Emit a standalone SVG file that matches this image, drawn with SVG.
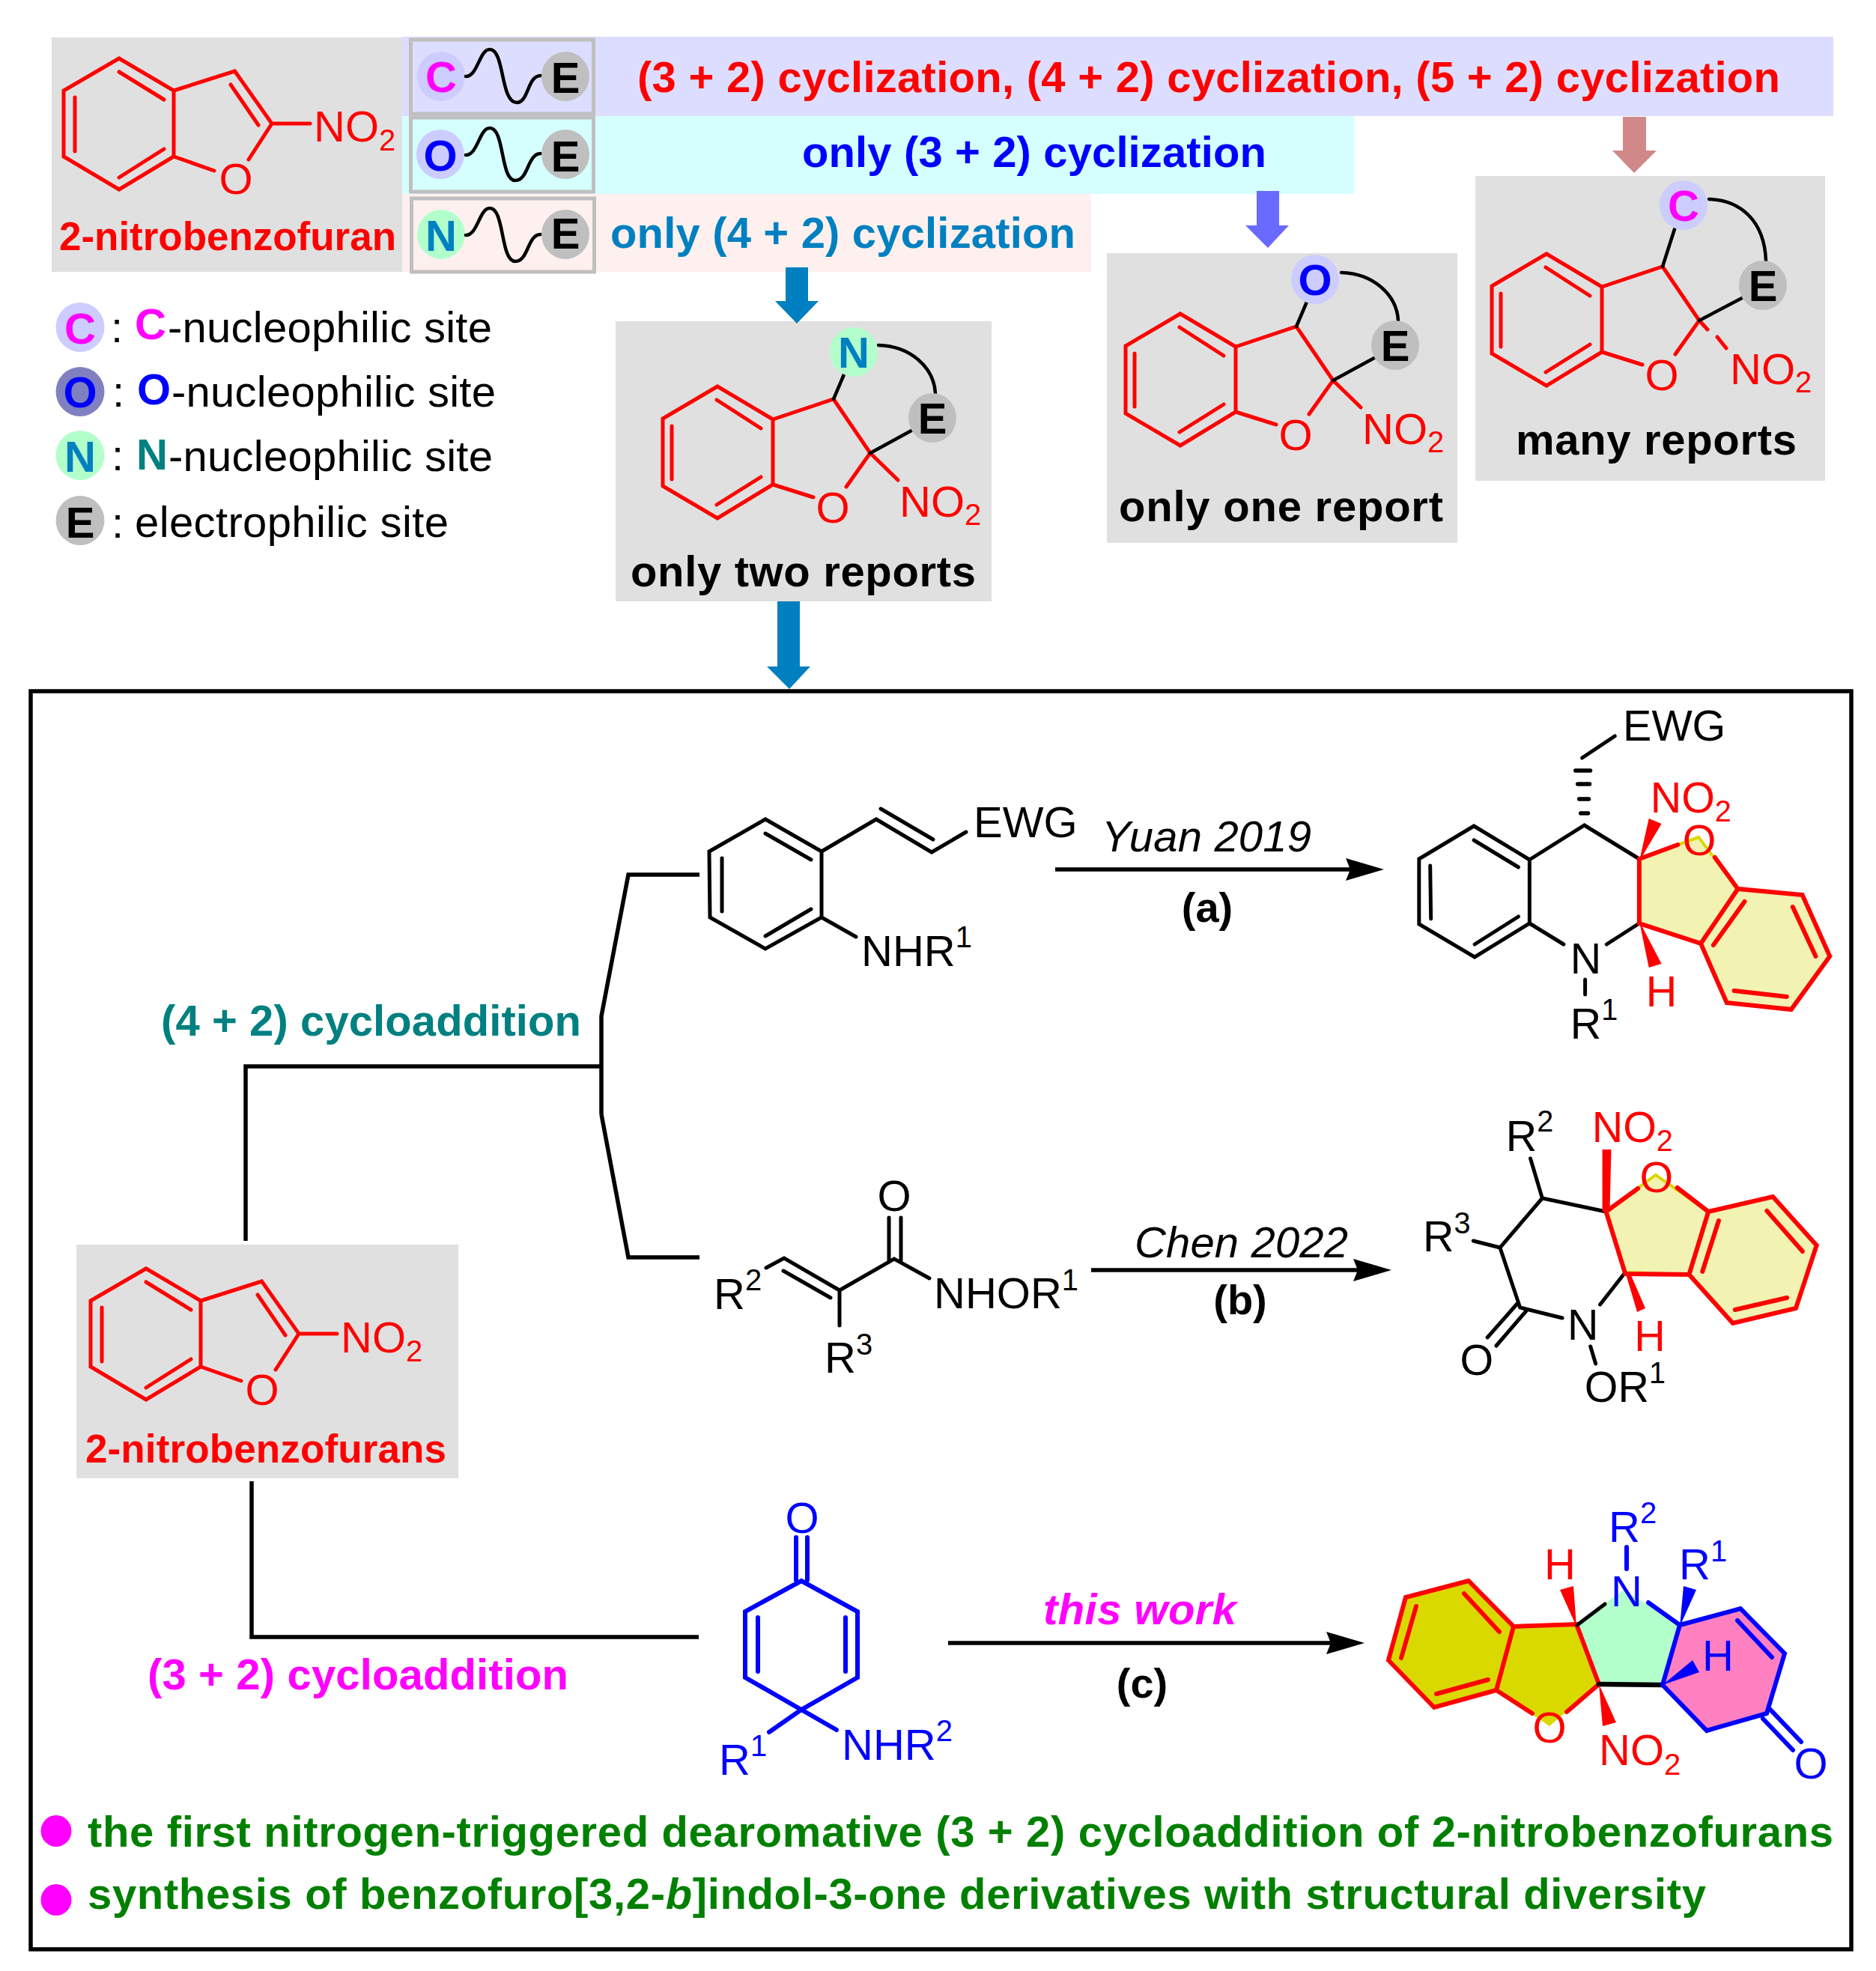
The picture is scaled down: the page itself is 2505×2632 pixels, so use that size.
<svg xmlns="http://www.w3.org/2000/svg" width="2505" height="2632" viewBox="0 0 2505 2632">
<style>
text{font-family:"Liberation Sans",Arial,sans-serif;font-size:58px}
.b{font-weight:bold}
.i{font-style:italic}
.m{text-anchor:middle}
.s{font-size:40px}
.red{fill:#f00}.blue{fill:#00f}.blk{fill:#000}.mag{fill:#f0f}.teal{fill:#008080}.sky{fill:#0080c0}.grn{fill:#008000}
.grey{fill:#e0e0e0}
.br{fill:none;stroke:#f00;stroke-width:5;stroke-linecap:round;stroke-linejoin:miter}
.br6{fill:none;stroke:#f00;stroke-width:6;stroke-linecap:round;stroke-linejoin:miter}
.bk{fill:none;stroke:#000;stroke-width:5;stroke-linecap:round;stroke-linejoin:miter}
.bk4{fill:none;stroke:#000;stroke-width:4.5;stroke-linecap:round}
.bb{fill:none;stroke:#00f;stroke-width:6;stroke-linecap:round;stroke-linejoin:miter}
.cn{fill:none;stroke:#000;stroke-width:5.5;stroke-linejoin:miter}
.box{fill:none;stroke:#bfbfbf;stroke-width:5}
.wave{fill:none;stroke:#000;stroke-width:4.5;stroke-linecap:round}
.ec{fill:#ccf}.en{fill:#b2ffcc}.ee{fill:#bfbfbf}.eo{fill:#8080c0}
.yl{fill:#f2f2b2;stroke:#d9d900;stroke-width:4;stroke-linejoin:miter}
</style>
<defs>
<marker id="ah" markerUnits="userSpaceOnUse" markerWidth="52" markerHeight="30" refX="11" refY="15" orient="auto"><path d="M0,0 L51,15 L0,30 L6,15Z" fill="#000"/></marker>
</defs>
<rect width="2505" height="2632" fill="#fff"/>

<g id="bands">
<rect x="537" y="49" width="1911" height="106" fill="#ddf"/>
<rect x="537" y="155" width="1271" height="104" fill="#d5ffff"/>
<rect x="537" y="259" width="920" height="104" fill="#fdf0ee"/>
<rect x="69" y="50" width="468" height="313" class="grey"/>
</g>

<g id="node-2-nitrobenzofuran">
<path class="br" d="M159,78 L232,121 L232,209 L159,253 L85,209 L85,121Z M232,121 L313.5,95 L363,165 L332,213 M232,209 L286,228 M363,165 L414,165 M159,96 L219,133 M100,130 L100,202 M219,199 L159,237 M308,113 L345,167"/>
<text x="315" y="259" class="m red">O</text>
<text x="419" y="189" class="red">NO<tspan class="s" dy="12">2</tspan></text>
<text x="79" y="334" class="b red" textLength="450" style="font-size:53px">2-nitrobenzofuran</text>
</g>

<g id="node-ce">
<rect x="548.500" y="53" width="244" height="99" class="box"/>
<ellipse cx="589" cy="102" rx="32" ry="33" class="ec"/>
<text x="589" y="123" class="m b mag">C</text>
<path class="wave" d="M622,102 C638,102 640,66 654,66 C674,66 668,137 690,137 C706,137 704,101 722,101"/>
<ellipse cx="755" cy="102" rx="32" ry="33" class="ee"/>
<text x="755" y="124" class="m b blk">E</text>
<text x="851" y="123" class="b red" textLength="1526">(3 + 2) cyclization, (4 + 2) cyclization, (5 + 2) cyclization</text>
</g>
<g id="node-oe">
<rect x="548.500" y="157" width="244" height="99" class="box"/>
<ellipse cx="588" cy="206" rx="32" ry="33" class="ec"/>
<text x="588" y="228" class="m b blue">O</text>
<path class="wave" d="M622,207 C638,207 640,171 654,171 C674,171 668,241 688,241 C706,241 704,205 722,205"/>
<ellipse cx="755" cy="206" rx="32" ry="33" class="ee"/>
<text x="755" y="229" class="m b blk">E</text>
<text x="1071" y="223" class="b blue" textLength="620">only (3 + 2) cyclization</text>
</g>
<g id="node-ne">
<rect x="549.500" y="265" width="244" height="98" class="box"/>
<ellipse cx="589" cy="313" rx="32" ry="33" class="en"/>
<text x="589" y="335" class="m b sky">N</text>
<path class="wave" d="M622,314 C638,314 640,278 654,278 C674,278 668,349 688,349 C706,349 704,313 722,313"/>
<ellipse cx="755" cy="313" rx="32" ry="33" class="ee"/>
<text x="755" y="332" class="m b blk">E</text>
<text x="815" y="331" class="b sky" textLength="621">only (4 + 2) cyclization</text>
</g>

<g id="legend">
<ellipse cx="107" cy="437" rx="32.500" ry="33" class="ec"/>
<text x="107" y="459" class="m b mag">C</text>
<text x="148" y="457">:</text>
<text x="180" y="453" class="b mag">C</text>
<text x="224" y="457" textLength="433">-nucleophilic site</text>
<ellipse cx="107" cy="523" rx="32.500" ry="33" class="eo"/>
<text x="107" y="544" class="m b blue">O</text>
<text x="150" y="543">:</text>
<text x="183" y="540" class="b blue">O</text>
<text x="229" y="543" textLength="433">-nucleophilic site</text>
<ellipse cx="107" cy="608" rx="32.500" ry="33" class="en"/>
<text x="107" y="630" class="m b sky">N</text>
<text x="149" y="628">:</text>
<text x="182" y="627" class="b teal">N</text>
<text x="225" y="629" textLength="433">-nucleophilic site</text>
<ellipse cx="107" cy="695" rx="32.500" ry="33" class="ee"/>
<text x="107" y="718" class="m b blk">E</text>
<text x="149" y="718">:</text>
<text x="180" y="717" textLength="419">electrophilic site</text>
</g>

<g id="node-only-two">
<rect x="822" y="429" width="502" height="374" class="grey"/>
<path class="br" d="M958,516 L1032,560 L1032,647 L958,692 L885,649 L885,559Z M1032,560 L1113,533 L1162,605 L1130,650 M1032,647 L1086,664 M1162,605 L1199,641 M957,534 L1016,572 M897,569 L897,640 M1016,637 L957,674"/>
<path class="bk4" d="M1113,533 L1127,500 M1173,461 C1215,462 1247,490 1249,525 M1162,605 L1217,575"/>
<ellipse cx="1140" cy="470" rx="32" ry="33" class="en"/>
<text x="1140" y="491" class="m b sky">N</text>
<ellipse cx="1245" cy="558" rx="32" ry="33" class="ee"/>
<text x="1245" y="579" class="m b blk">E</text>
<text x="1112" y="698" class="m red">O</text>
<text x="1201" y="690" class="red">NO<tspan class="s" dy="11">2</tspan></text>
<text x="842" y="783" class="b blk" textLength="461">only two reports</text>
</g>

<g id="node-only-one">
<rect x="1478" y="338" width="468" height="387" class="grey"/>
<g transform="translate(618,-97)">
<path class="br" d="M958,516 L1032,560 L1032,647 L958,692 L885,649 L885,559Z M1032,560 L1113,533 L1162,605 L1130,650 M1032,647 L1086,664 M1162,605 L1199,641 M957,534 L1016,572 M897,569 L897,640 M1016,637 L957,674"/>
<path class="bk4" d="M1113,533 L1127,500 M1173,461 C1215,462 1247,490 1249,525 M1162,605 L1217,575"/>
<ellipse cx="1138" cy="470" rx="32" ry="33" class="ec"/>
<text x="1138" y="491" class="m b blue">O</text>
<ellipse cx="1245" cy="558" rx="32" ry="33" class="ee"/>
<text x="1245" y="579" class="m b blk">E</text>
<text x="1112" y="698" class="m red">O</text>
<text x="1201" y="690" class="red">NO<tspan class="s" dy="11">2</tspan></text>
</g>
<text x="1494" y="696" class="b blk" textLength="433">only one report</text>
</g>

<g id="node-many">
<rect x="1970" y="235" width="467" height="407" class="grey"/>
<g transform="translate(1107,-177)">
<path class="br" d="M958,516 L1032,560 L1032,647 L958,692 L885,649 L885,559Z M1032,560 L1113,533 L1162,605 L1130,650 M1032,647 L1086,664 M1162,605 L1173,617 M1186,627 L1198,642 M957,534 L1016,572 M897,569 L897,640 M1016,637 L957,674"/>
<path class="bk4" d="M1113,533 L1129,483 M1175,443 C1217,444 1249,472 1251,525 M1162,605 L1219,575"/>
<ellipse cx="1141" cy="451" rx="32" ry="33" class="ec"/>
<text x="1141" y="472" class="m b mag">C</text>
<ellipse cx="1247" cy="558" rx="32" ry="33" class="ee"/>
<text x="1247" y="579" class="m b blk">E</text>
<text x="1112" y="698" class="m red">O</text>
<text x="1203" y="690" class="red">NO<tspan class="s" dy="11">2</tspan></text>
</g>
<text x="2024" y="607" class="b blk" textLength="375">many reports</text>
</g>

<g id="frame"><rect x="41" y="923" width="2431" height="1680" fill="none" stroke="#000" stroke-width="5.500"/></g>

<g id="connectors">
<path fill="#0080c0" d="M1049,357 H1079 V402 H1093 L1064,432 L1035,402 H1049Z"/>
<path fill="#6a6aff" d="M1678,255 H1708 V301 H1721 L1693,331 L1663,301 H1678Z"/>
<path fill="#d08888" d="M2167,156 H2198 V201 H2212 L2182,231 L2153,201 H2167Z"/>
<path fill="#0080c0" d="M1038,803 H1068 V890 H1082 L1054,920 L1024,890 H1038Z"/>
<path class="cn" d="M328,1657 V1424 H803 M803,1488 V1357 L839,1168 H934 M803,1488 L839,1679 H934"/>
<path class="cn" d="M336,1978 V2186 H933"/>
<path class="cn" d="M1409,1161 H1808" marker-end="url(#ah)"/>
<path class="cn" d="M1457,1696 H1818" marker-end="url(#ah)"/>
<path class="cn" d="M1266,2194 H1782" marker-end="url(#ah)"/>
</g>

<g id="labels">
<text x="215" y="1383" class="b teal" textLength="561">(4 + 2) cycloaddition</text>
<text x="197" y="2256" class="b mag" textLength="562">(3 + 2) cycloaddition</text>
<text x="1471" y="1137" class="i" textLength="280">Yuan 2019</text>
<text x="1612" y="1231" class="m b" style="font-size:56px">(a)</text>
<text x="1515" y="1679" class="i" textLength="285">Chen 2022</text>
<text x="1656" y="1755" class="m b" style="font-size:56px">(b)</text>
<text x="1393" y="2169" class="b i mag" textLength="258">this work</text>
<text x="1525" y="2267" class="m b" style="font-size:56px">(c)</text>
</g>

<g id="node-2-nitrobenzofurans">
<rect x="102" y="1662" width="510" height="312" class="grey"/>
<g transform="translate(36,1616)">
<path class="br" d="M159,78 L232,121 L232,209 L159,253 L85,209 L85,121Z M232,121 L313.5,95 L363,165 L332,213 M232,209 L286,228 M363,165 L414,165 M159,96 L219,133 M100,130 L100,202 M219,199 L159,237 M308,113 L345,167"/>
<text x="314" y="260" class="m red">O</text>
<text x="419" y="190" class="red">NO<tspan class="s" dy="12">2</tspan></text>
</g>
<text x="114" y="1953" class="b red" textLength="482" style="font-size:53px">2-nitrobenzofurans</text>
</g>

<g id="node-reactant-a">
<path class="bk" d="M947,1137 L1022,1094 L1097,1137 L1097,1225 L1022,1267 L948,1225Z M1022,1113 L1083,1148 M964,1146 L964,1217 M1083,1214 L1022,1250 M1097,1137 L1170,1094 L1244,1138 L1290,1111 M1176,1080 L1246,1121 M1097,1225 L1143,1251"/>
<text x="1300" y="1118">EWG</text>
<text x="1150" y="1290">NHR<tspan class="s" dy="-25">1</tspan></text>
</g>

<g id="node-reactant-b">
<path class="bk" d="M1023,1693 L1047,1680 L1121,1723 L1194,1681 L1241,1707 M1046,1697 L1109,1733 M1121,1723 L1121,1770 M1187,1683 L1187,1626 M1203,1683 L1203,1626"/>
<text x="1194" y="1617" class="m">O</text>
<text x="953" y="1748">R<tspan class="s" dy="-25">2</tspan></text>
<text x="1101" y="1833">R<tspan class="s" dy="-24">3</tspan></text>
<text x="1247" y="1747">NHOR<tspan class="s" dy="-24">1</tspan></text>
</g>

<g id="node-reactant-c">
<path class="bb" d="M1070,2111 L1145,2152 L1145,2240 L1070,2283 L995,2240 L995,2152Z M1063,2053 L1063,2110 M1078,2053 L1078,2110 M1012,2160 L1012,2232 M1129,2160 L1129,2232 M1070,2283 L1027,2313 M1070,2283 L1117,2310"/>
<text x="1071" y="2047" class="m blue">O</text>
<text x="960" y="2370" class="blue">R<tspan class="s" dy="-25">1</tspan></text>
<text x="1124" y="2350" class="blue">NHR<tspan class="s" dy="-25">2</tspan></text>
</g>

<g id="node-product-a" transform="matrix(.99 0 0 1 17.800 0)">
<path class="yl" d="M2193,1147 L2273,1118 L2326,1187 L2413,1195 L2450,1277 L2398,1348 L2311,1339 L2276,1260 L2193,1233Z"/>
<path class="bk" d="M1970,1103 L2045,1148 L2045,1233 L1971,1278 L1896,1234 L1896,1147Z M1970,1122 L2030,1158 M1911,1156 L1912,1227 M2030,1224 L1971,1261 M2045,1148 L2119,1102 L2193,1147 M2045,1233 L2091,1261 M2193,1233 L2149,1261 M2120,1308 L2120,1328 M2116,1012 L2160,983"/>
<path d="M2114,1086h10M2112,1067h13M2110,1047h16M2107,1029h20" stroke="#000" stroke-width="5.500" stroke-linecap="round"/>
<path class="br6" d="M2193,1147 L2193,1233 L2276,1260 L2311,1339 L2398,1348 L2450,1277 L2413,1195 L2326,1187 L2276,1260 M2193,1147 L2245,1128 M2295,1145 L2326,1187 M2335,1204 L2293,1262 M2400,1211 L2431,1277 M2392,1331 L2321,1323"/>
<path class="red" d="M2193,1150 L2206,1093 L2223,1100Z M2193,1230 L2206,1292 L2223,1287Z"/>
<text x="2171" y="989">EWG</text>
<text x="2100" y="1300">N</text>
<text x="2100" y="1387">R<tspan class="s" dy="-25">1</tspan></text>
<text x="2274" y="1142" class="m red">O</text>
<text x="2208" y="1085" class="red">NO<tspan class="s" dy="12">2</tspan></text>
<text x="2202" y="1344" class="red">H</text>
</g>

<g id="node-product-b" transform="matrix(.99 0 0 1 18 0)">
<path class="yl" d="M2148,1618 L2215,1569 L2286,1618 L2373,1598 L2432,1663 L2404,1747 L2319,1767 L2260,1702 L2174,1699Z"/>
<path class="bk" d="M2148,1618 L2062,1600 L2005,1666 L2032,1746 L2089,1760 M2140,1742 L2174,1699 M2062,1600 L2046,1547 M2005,1666 L1969,1657 M2029,1740 L1988,1786 M2040,1751 L2000,1797 M2127,1798 L2134,1821"/>
<path class="br6" d="M2148,1618 L2174,1701 L2260,1702 L2319,1767 L2404,1747 L2432,1663 L2373,1598 L2286,1618 L2260,1702 M2148,1618 L2191,1587 M2244,1586 L2286,1618 M2300,1630 L2278,1698 M2365,1617 L2413,1671 M2392,1733 L2322,1749"/>
<path class="red" d="M2143,1535 H2155 L2153,1618 H2143Z M2174,1699 L2190,1752 L2201,1747 L2180,1699Z"/>
<text x="2216" y="1592" class="m red">O</text>
<text x="2129" y="1525" class="red">NO<tspan class="s" dy="12">2</tspan></text>
<text x="2013" y="1537">R<tspan class="s" dy="-26">2</tspan></text>
<text x="1901" y="1671">R<tspan class="s" dy="-24">3</tspan></text>
<text x="1951" y="1836">O</text>
<text x="2096" y="1789">N</text>
<text x="2119" y="1872">OR<tspan class="s" dy="-25">1</tspan></text>
<text x="2186" y="1804" class="red">H</text>
</g>

<g id="node-product-c">
<path fill="#d9d900" d="M1961,2111 L1877,2133 L1854,2217 L1915,2280 L1998,2257 L2069,2305 L2135,2249 L2105,2169 L2021,2172Z"/>
<path fill="#b2ffcc" d="M2105,2169 L2168,2123 L2243,2170 L2220,2250 L2135,2249Z"/>
<path fill="#ff80c0" d="M2243,2170 L2324,2148 L2383,2208 L2359,2288 L2279,2311 L2220,2250Z"/>
<path class="br6" d="M1961,2111 L1877,2133 L1854,2217 L1915,2280 L1998,2257 L2021,2172Z M2021,2172 L2105,2169 L2135,2249 M1998,2257 L2046,2288 M2092,2286 L2135,2249 M2002,2179 L1955,2128 M1891,2145 L1871,2214 M1918,2262 L1987,2243"/>
<path class="bk" d="M2106,2170 L2143,2142"/>
<path d="M2135,2249 L2220,2250" fill="none" stroke="#000" stroke-width="6.500" stroke-linecap="round"/>
<path class="bb" d="M2201,2140 L2243,2170 L2220,2250 L2279,2311 L2359,2288 L2383,2208 L2324,2148 L2243,2170 M2320,2164 L2366,2213 M2363,2282 L2405,2326 M2354,2295 L2394,2337 M2172,2066 L2172,2095"/>
<path class="red" d="M2105,2172 L2083,2123 L2101,2118Z M2135,2249 L2140,2305 L2158,2300Z"/>
<path class="blue" d="M2243,2172 L2248,2118 L2265,2123Z M2220,2250 L2260,2217 L2269,2233Z"/>
<text x="2151" y="2145" class="blue">N</text>
<text x="2148" y="2059" class="blue">R<tspan class="s" dy="-25">2</tspan></text>
<text x="2242" y="2109" class="blue">R<tspan class="s" dy="-24">1</tspan></text>
<text x="2273" y="2231" class="blue">H</text>
<text x="2062" y="2109" class="red">H</text>
<text x="2069" y="2327" class="m red">O</text>
<text x="2135" y="2357" class="red">NO<tspan class="s" dy="13">2</tspan></text>
<text x="2418" y="2375" class="m blue">O</text>
</g>

<g id="conclusions">
<ellipse cx="75" cy="2445" rx="20.500" ry="21" class="mag"/>
<text x="117" y="2466" class="b grn" textLength="2331">the first nitrogen-triggered dearomative (3 + 2) cycloaddition of 2-nitrobenzofurans</text>
<ellipse cx="75" cy="2537" rx="20.500" ry="21" class="mag"/>
<text x="117" y="2549" class="b grn" textLength="2161">synthesis of benzofuro[3,2-<tspan class="i">b</tspan>]indol-3-one derivatives with structural diversity</text>
</g>
</svg>
